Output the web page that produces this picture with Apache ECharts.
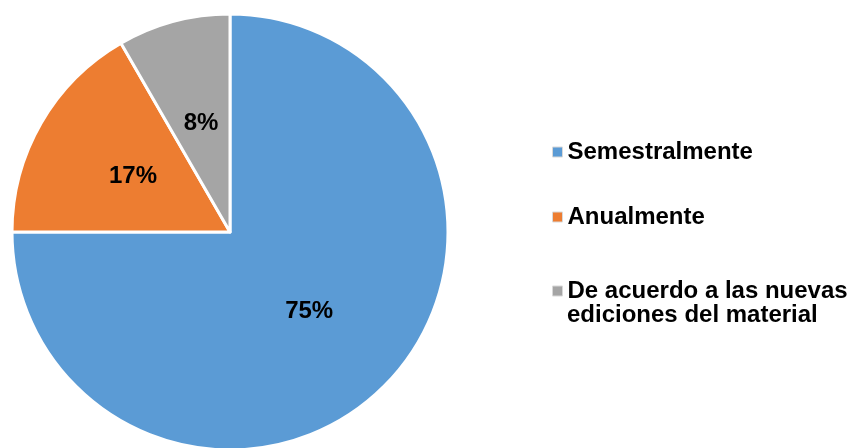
<!DOCTYPE html>
<html>
<head>
<meta charset="utf-8">
<script src="https://cdn.jsdelivr.net/npm/echarts@6/dist/echarts.min.js"></script>
<style>
  html, body { margin: 0; padding: 0; background: #fff; }
  #chart { width: 848px; height: 448px; }
</style>
</head>
<body>
<div id="chart"></div>
<script>
// datos del gráfico (9, 2 y 1 respuestas de 12)
var categorias = ['Semestralmente', 'Anualmente', 'De acuerdo a las nuevas ediciones del material'];
var valores = [9, 2, 1];
var colores = ['#5B9BD5', '#ED7D31', '#A5A5A5'];
var lineas3 = ['De acuerdo a las nuevas', 'ediciones del material'];

var fuente = '"Liberation Sans", Arial, sans-serif';

var myChart = echarts.init(document.getElementById('chart'));

function leyenda(i, top) {
  return {
    orient: 'vertical',
    left: 552,
    top: top,
    padding: 0,
    itemWidth: 10,
    itemHeight: 10,
    icon: 'rect',
    selectedMode: false,
    itemStyle: { borderColor: '#d9d9d9', borderWidth: 1 },
    textStyle: { fontFamily: fuente, fontSize: 24, fontWeight: 'bold', color: '#000', lineHeight: 26 },
    formatter: function (name) {
      return name === categorias[2] ? lineas3[0] : name;
    },
    data: [categorias[i]]
  };
}

var option = {
  backgroundColor: '#fff',
  color: colores,
  animation: false,
  legend: [
    leyenda(0, 139),
    leyenda(1, 204),
    leyenda(2, 278)
  ],
  graphic: [
    {
      type: 'text',
      left: 567,
      top: 303,
      style: {
        text: lineas3[1],
        font: 'bold 24px ' + fuente,
        fill: '#000'
      }
    }
  ],
  series: [
    {
      type: 'pie',
      center: [230, 232],
      radius: 218,
      startAngle: 90,
      clockwise: true,
      percentPrecision: 0,
      itemStyle: { borderColor: '#fff', borderWidth: 3 },
      label: {
        show: true,
        position: 'inside',
        formatter: '{d}%',
        fontFamily: fuente,
        fontSize: 24,
        fontWeight: 'bold',
        color: '#000'
      },
      labelLine: { show: false },
      data: categorias.map(function (c, i) {
        return { name: c, value: valores[i] };
      })
    }
  ]
};

option && myChart.setOption(option);
</script>
</body>
</html>
